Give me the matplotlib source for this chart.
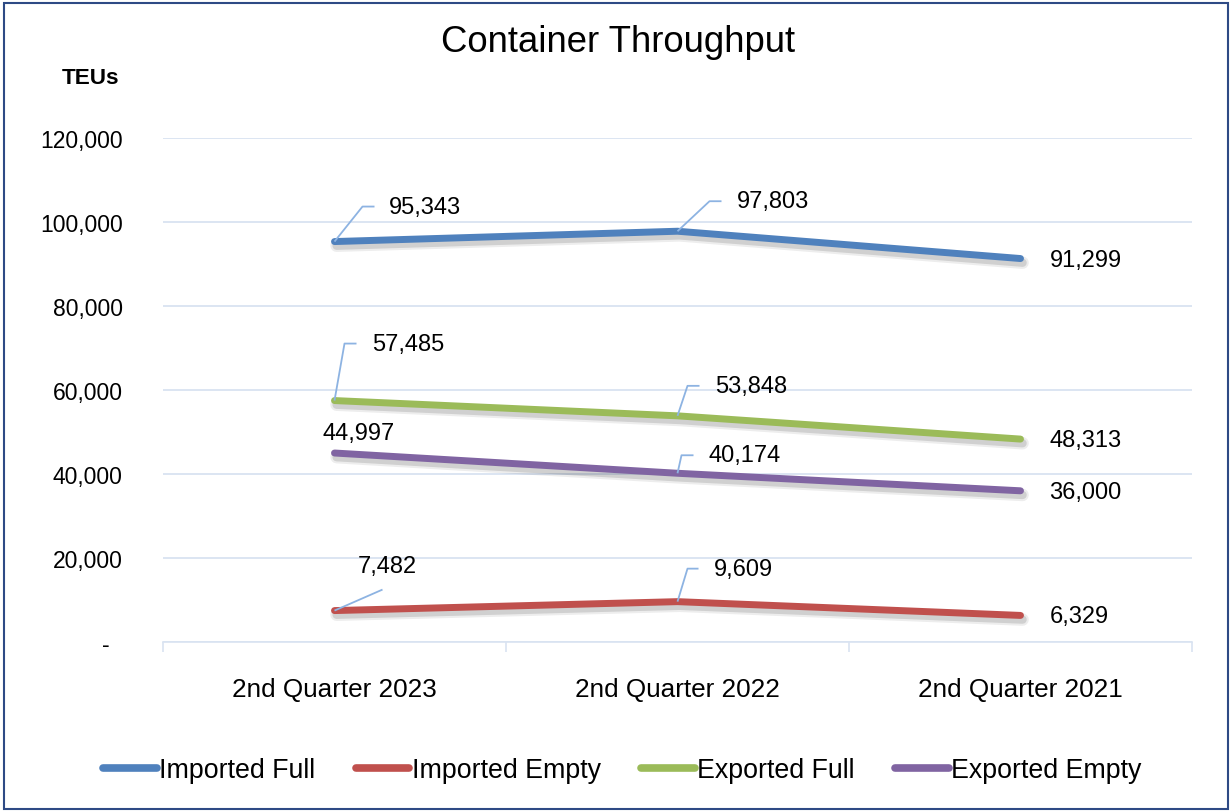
import matplotlib.pyplot as plt
import matplotlib.patheffects as pe
from matplotlib.lines import Line2D
from matplotlib.patches import Rectangle

plt.rcParams['font.family'] = ['Liberation Sans', 'DejaVu Sans']

# ---------------- data ----------------
quarters = ["2nd Quarter 2023", "2nd Quarter 2022", "2nd Quarter 2021"]

imported_full = [95343, 97803, 91299]
imported_empty = [7482, 9609, 6329]
exported_full = [57485, 53848, 48313]
exported_empty = [44997, 40174, 36000]

series_names = ["Imported Full", "Imported Empty", "Exported Full", "Exported Empty"]
series_values = [imported_full, imported_empty, exported_full, exported_empty]
series_colors = ["#4F81BD", "#C0504D", "#9BBB59", "#8064A2"]

y_ticks = [0, 20000, 40000, 60000, 80000, 100000, 120000]
y_tick_labels = ["-  ", "20,000", "40,000", "60,000", "80,000", "100,000", "120,000"]

# label placement, in pixels from the point: (dx, dy, leader vertices or None)
label_offsets = [
    [(54, 35, [(28, 35), (40, 35)]), (59, 30, [(32, 30), (44, 30)]), (29, -1, None)],
    [(23, 45, [(48, 21)]), (36, 33, [(10, 33), (21, 33)]), (29, -1, None)],
    [(38, 57, [(10, 57), (22, 57)]), (38, 30, [(10, 30), (22, 30)]), (29, -1, None)],
    [(-12, 20, None), (31, 18, [(4, 18), (16, 18)]), (29, -1, None)],
]

grid_color = "#D9E3F1"
leader_color = "#8DB3E2"

# ---------------- figure ----------------
W, H = 1230, 812
fig = plt.figure(figsize=(W / 100, H / 100), dpi=100)
ax = fig.add_axes([163 / W, 1 - 643 / H, 1029 / W, 504 / H])

x = list(range(len(quarters)))
ax.set_xlim(-0.5, 2.5)
ax.set_ylim(0, 120000)

# soft drop shadow under each line
shadow = [pe.SimpleLineShadow(offset=(1.5, -3), shadow_color="black", alpha=0.07, linewidth=9),
          pe.SimpleLineShadow(offset=(1.5, -3), shadow_color="black", alpha=0.12, linewidth=6),
          pe.Normal()]

for vals, col in zip(series_values, series_colors):
    ax.plot(x, vals, color=col, lw=5, solid_capstyle="round",
            solid_joinstyle="round", path_effects=shadow, zorder=3)

# pixel -> data conversion
px_x = 3 / 1029
px_y = 120000 / 504

for vals, offs in zip(series_values, label_offsets):
    for xi, v, (dx, dy, leader) in zip(x, vals, offs):
        ax.annotate(f"{v:,}", (xi, v), xytext=(dx, dy), textcoords="offset pixels",
                    ha="left", va="center", fontsize=17, color="black", zorder=5)
        if leader:
            lx = [xi] + [xi + p[0] * px_x for p in leader]
            ly = [v] + [v + p[1] * px_y for p in leader]
            ax.plot(lx, ly, color=leader_color, lw=1.3, zorder=4,
                    solid_capstyle="butt")

# axes styling
for s in ["top", "right", "left"]:
    ax.spines[s].set_visible(False)
ax.spines["bottom"].set_color(grid_color)
ax.spines["bottom"].set_linewidth(1.2)

ax.set_yticks(y_ticks, y_tick_labels)
ax.tick_params(axis="y", length=0, pad=29, labelsize=16.5)
ax.yaxis.grid(True, color=grid_color, lw=1.3)
ax.set_axisbelow(True)

ax.set_xticks(x, quarters)
ax.set_xticks([-0.5, 0.5, 1.5, 2.5], minor=True)
ax.tick_params(axis="x", which="major", length=0, pad=25, labelsize=18.8)
ax.tick_params(axis="x", which="minor", length=7.5, width=1.2, color=grid_color)

# titles
fig.text(618 / W, 1 - 43 / H, "Container Throughput", ha="center", va="center",
         fontsize=26.3)
fig.text(91 / W, 1 - 78 / H, "TEUs", ha="center", va="center", fontsize=16.2,
         fontweight="bold")

# legend
handles = [Line2D([], [], color=c, lw=5.5, solid_capstyle="round") for c in series_colors]
fig.legend(handles, series_names, loc="center", bbox_to_anchor=(0.506, 1 - 771 / H),
           ncol=4, frameon=False, fontsize=19.3, handlelength=2.0,
           handletextpad=0.1, columnspacing=1.5)

# chart border
fig.patches.append(Rectangle((4 / W, 2 / H), 1224 / W, 806 / H, transform=fig.transFigure,
                             fill=False, edgecolor="#2E4A85", lw=1.5))

fig.savefig("out.png", dpi=100)
